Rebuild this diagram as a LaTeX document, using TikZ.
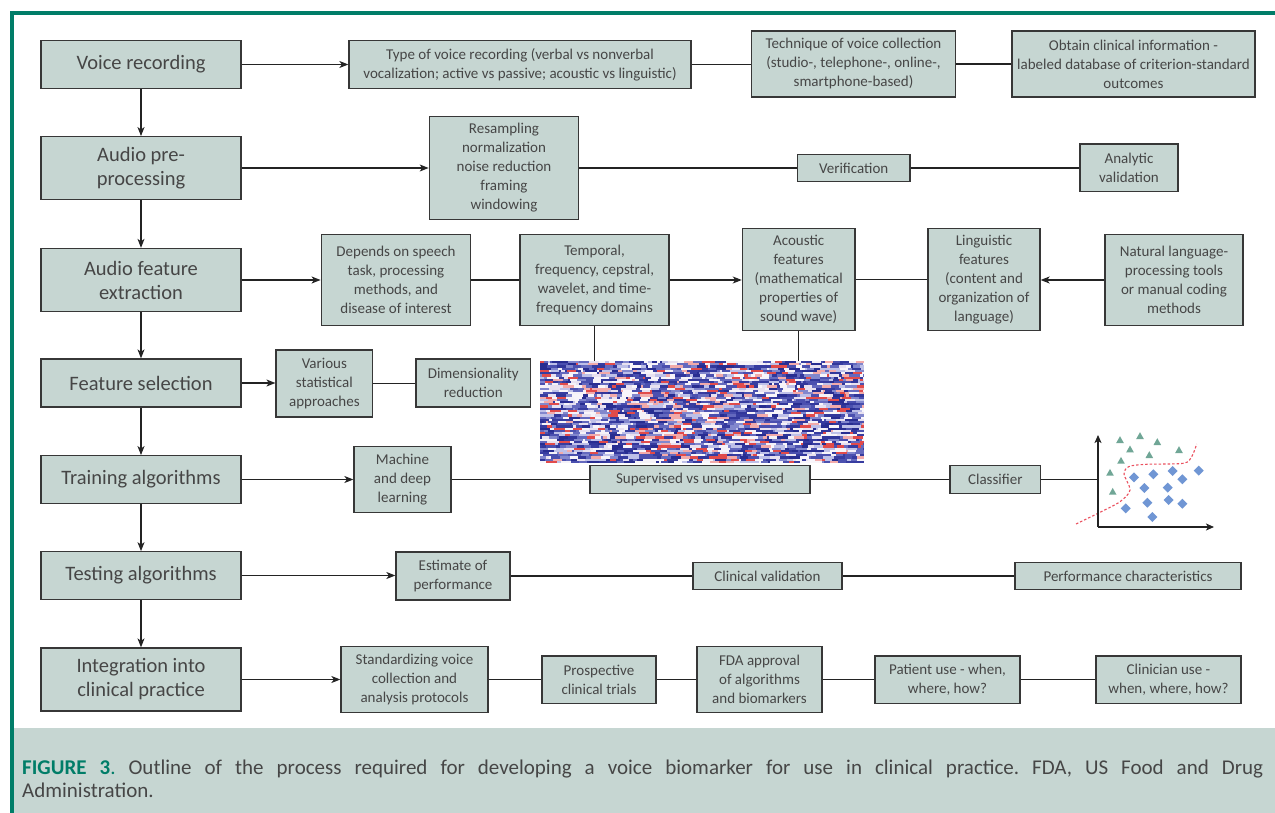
\documentclass[tikz,border=0pt]{standalone}
\usepackage{fontspec}
\setmainfont{Carlito}
\usetikzlibrary{arrows.meta}
\definecolor{boxfill}{RGB}{198,214,210}
\definecolor{teal1}{RGB}{0,125,104}
\definecolor{txt}{RGB}{70,70,70}
\definecolor{edge}{RGB}{55,55,55}
\definecolor{lnk}{RGB}{35,35,35}
\definecolor{tri}{RGB}{112,166,150}
\definecolor{dia}{RGB}{112,150,212}
\definecolor{curvecol}{RGB}{235,80,95}
\definecolor{sp1}{RGB}{40,45,145}
\definecolor{sp2}{RGB}{55,60,160}
\definecolor{sp3}{RGB}{75,80,175}
\definecolor{sp4}{RGB}{130,135,205}
\definecolor{sp5}{RGB}{190,192,232}
\definecolor{sp6}{RGB}{245,242,248}
\definecolor{sp7}{RGB}{232,225,240}
\definecolor{sp8}{RGB}{242,170,170}
\definecolor{sp9}{RGB}{225,75,75}
\definecolor{sp10}{RGB}{248,245,250}
\definecolor{sp11}{RGB}{50,55,155}
\definecolor{sp12}{RGB}{100,105,190}
\begin{document}
\begin{tikzpicture}[x=1pt,y=-1pt,
  box/.style={draw=edge, line width=1.3pt, fill=boxfill, text=txt, align=center, inner sep=1pt, font=\fontsize{15}{19}\selectfont},
  mainbox/.style={box, font=\fontsize{20.5}{24}\selectfont, minimum width=200pt},
  conn/.style={draw=lnk, line width=1.1pt},
  arr/.style={conn, -{Stealth[length=9pt,width=7pt,inset=2.5pt]}},
  axarr/.style={draw=lnk, line width=1.2pt, -{Stealth[length=8pt,width=7pt,inset=2pt]}}
]
\useasboundingbox (0,0) rectangle (1275,813);
\fill[white] (0,0) rectangle (1275,813);
% frame and caption background
\fill[boxfill] (14,728) rectangle (1275,813);
\draw[teal1, line width=4pt] (10,13) -- (1275,13);
\draw[teal1, line width=4pt] (12,11) -- (12,813);

% spectrogram (horizontal streaks)
\pgfmathsetseed{4242}
\foreach \r in {0,...,45}{
  \gdef\cx{0}
  \loop
    \pgfmathrandominteger{\len}{2}{11}
    \pgfmathrandominteger{\k}{1}{12}
    \pgfmathsetmacro\cxn{min(\cx+\len,324)}
    \fill[sp\k] ({540+\cx},{361+\r*2.22}) rectangle ({540+\cxn},{361+\r*2.22+2.3});
    \xdef\cx{\cxn}
  \ifdim\cx pt<324pt \repeat
}
\node[inner sep=0pt, minimum width=324pt, minimum height=102pt] (spec) at (702,412) {};

% left column
\node[mainbox, minimum height=48pt] (vr) at (141,64.5) {Voice recording};
\node[mainbox, minimum height=62.6pt] (app) at (141,168) {Audio pre-\\processing};
\node[mainbox, minimum height=63pt] (afe) at (141,280) {Audio feature\\extraction};
\node[mainbox, minimum height=48pt] (fs) at (141,383) {Feature selection};
\node[mainbox, minimum height=47.6pt] (train) at (141,479.5) {Training algorithms};
\node[mainbox, minimum height=47.4pt] (test) at (141,575.5) {Testing algorithms};
\node[mainbox, minimum height=63pt] (integ) at (141,679.5) {Integration into\\clinical practice};

% row 1
\node[box, minimum width=342pt, minimum height=47.6pt] (type) at (520,64.5) {Type of voice recording (verbal vs nonverbal\\vocalization; active vs passive; acoustic vs linguistic)};
\node[box, minimum width=204pt, minimum height=66pt] (tech) at (853.5,64) {Technique of voice collection\\(studio-, telephone-, online-,\\smartphone-based)};
\node[box, minimum width=243pt, minimum height=66pt] (obtain) at (1133.5,64) {Obtain clinical information -\\labeled database of criterion-standard\\outcomes};
% row 2
\node[box, minimum width=149.4pt, minimum height=102.6pt] (resamp) at (504,168) {Resampling\\normalization\\noise reduction\\framing\\windowing};
\node[box, minimum width=112.7pt, minimum height=27.4pt] (verif) at (853.7,168) {Verification};
\node[box, minimum width=98pt, minimum height=47.7pt] (analytic) at (1129,168) {Analytic\\validation};
% row 3
\node[box, minimum width=149.6pt, minimum height=91pt] (depends) at (396,280) {Depends on speech\\task, processing\\methods, and\\disease of interest};
\node[box, minimum width=149pt, minimum height=91pt] (temporal) at (594.5,280) {Temporal,\\frequency, cepstral,\\wavelet, and time-\\frequency domains};
\node[box, minimum width=112.6pt, minimum height=101.7pt] (acoustic) at (798.7,279.5) {Acoustic\\features\\(mathematical\\properties of\\sound wave)};
\node[box, minimum width=112pt, minimum height=101.7pt] (linguistic) at (984,279.5) {Linguistic\\features\\(content and\\organization of\\language)};
\node[box, minimum width=138pt, minimum height=91pt] (nlp) at (1174,280) {Natural language-\\processing tools\\or manual coding\\methods};
% row 4
\node[box, minimum width=96.7pt, minimum height=67pt] (various) at (324.4,383.5) {Various\\statistical\\approaches};
\node[box, minimum width=114.6pt, minimum height=48pt] (dim) at (473.3,383) {Dimensionality\\reduction};
% row 5
\node[box, minimum width=97pt, minimum height=66pt] (ml) at (402.5,479.5) {Machine\\and deep\\learning};
\node[box, minimum width=220pt, minimum height=27.6pt] (sup) at (700,479.5) {Supervised vs unsupervised};
\node[box, minimum width=90.7pt, minimum height=27.6pt] (cls) at (995.3,479.5) {Classifier};
% row 6
\node[box, minimum width=114pt, minimum height=48pt] (est) at (453,576) {Estimate of\\performance};
\node[box, minimum width=149pt, minimum height=27.3pt] (clinval) at (767.5,576) {Clinical validation};
\node[box, minimum width=226pt, minimum height=27.3pt] (perf) at (1128,576) {Performance characteristics};
% row 7
\node[box, minimum width=147pt, minimum height=66.5pt] (std) at (414.5,679.5) {Standardizing voice\\collection and\\analysis protocols};
\node[box, minimum width=114pt, minimum height=47.3pt] (prosp) at (599,679.5) {Prospective\\clinical trials};
\node[box, minimum width=125pt, minimum height=66pt] (fda) at (759.5,679.5) {FDA approval\\of algorithms\\and biomarkers};
\node[box, minimum width=145pt, minimum height=47.3pt] (patient) at (947.5,679.5) {Patient use - when,\\where, how?};
\node[box, minimum width=145pt, minimum height=47.3pt] (clinician) at (1168.5,679.5) {Clinician use -\\when, where, how?};

% vertical arrows
\draw[arr] (vr) -- (app);
\draw[arr] (app) -- (afe);
\draw[arr] (afe) -- (fs);
\draw[arr] (fs) -- (train);
\draw[arr] (train) -- (test);
\draw[arr] (test) -- (integ);

% row connectors
\draw[arr] (vr.east) -- (vr.east -| type.west);
\draw[conn] (type.east) -- (type.east -| tech.west);
\draw[conn] (tech.east) -- (tech.east -| obtain.west);

\draw[arr] (app.east) -- (app.east -| resamp.west);
\draw[conn] (resamp.east) -- (resamp.east -| verif.west);
\draw[conn] (verif.east) -- (verif.east -| analytic.west);

\draw[arr] (afe.east) -- (afe.east -| depends.west);
\draw[conn] (depends.east) -- (depends.east -| temporal.west);
\draw[arr] (temporal.east) -- (temporal.east -| acoustic.west);
\draw[conn] (acoustic.east) -- (acoustic.east -| linguistic.west);
\draw[arr] (nlp.west) -- (nlp.west -| linguistic.east);
\draw[conn] (temporal.south) -- (temporal.south |- spec.north);
\draw[conn] (acoustic.south) -- (acoustic.south |- spec.north);

\draw[arr] (fs.east) -- (fs.east -| various.west);
\draw[conn] (various.east) -- (various.east -| dim.west);

\draw[arr] (train.east) -- (train.east -| ml.west);
\draw[conn] (ml.east) -- (ml.east -| sup.west);
\draw[conn] (sup.east) -- (sup.east -| cls.west);

\draw[arr] (test.east) -- (test.east -| est.west);
\draw[conn] (est.east) -- (est.east -| clinval.west);
\draw[conn] (clinval.east) -- (clinval.east -| perf.west);

\draw[arr] (integ.east) -- (integ.east -| std.west);
\draw[conn] (std.east) -- (std.east -| prosp.west);
\draw[conn] (prosp.east) -- (prosp.east -| fda.west);
\draw[conn] (fda.east) -- (fda.east -| patient.west);
\draw[conn] (patient.east) -- (patient.east -| clinician.west);

% scatter plot
\coordinate (orig) at (1098,527);
\coordinate (ytop) at (1098,435);
\coordinate (xend) at (1214,527);
\draw[conn] (cls.east) -- (cls.east -| orig);
\draw[curvecol, line width=1.1pt, dash pattern=on 2.5pt off 2pt] plot[smooth] coordinates {(1076,524) (1098,513.3) (1120,501.7) (1130,490) (1124,474) (1129,466.5) (1146.7,464.3) (1183.3,463.3) (1191.7,456.7) (1196.7,444)};
\foreach \x/\y in {1120/440,1140/436,1157.3/442,1130/449.3,1149.3/455,1179/450,1121/460.7,1110/472.7,1112.7/491.7}
  \fill[tri] (\x-3.8,\y+3) -- (\x+3.8,\y+3) -- (\x,\y-3.8) -- cycle;
\foreach \x/\y in {1134/477.3,1153.3/474.3,1172.7/471,1182.3/479.3,1198.7/470.7,1144.3/488,1167.7/487.7,1147.3/502.7,1168.7/500,1182.3/503.7,1125.7/508.3,1152.3/517}
  \fill[dia] (\x,\y-5) -- (\x+5,\y) -- (\x,\y+5) -- (\x-5,\y) -- cycle;
\draw[axarr] (orig) -- (ytop);
\draw[axarr] (orig) -- (xend);

% caption
\node[anchor=north west, inner sep=0pt, text width=1241pt, align=justify, text=txt, font=\fontsize{21}{23}\selectfont\frenchspacing] (caption) at (22,760) {\textcolor{teal1}{\textbf{FIGURE 3}.} Outline of the process required for developing a voice biomarker for use in clinical practice. FDA, US Food and Drug\linebreak Administration.};
\end{tikzpicture}
\end{document}
